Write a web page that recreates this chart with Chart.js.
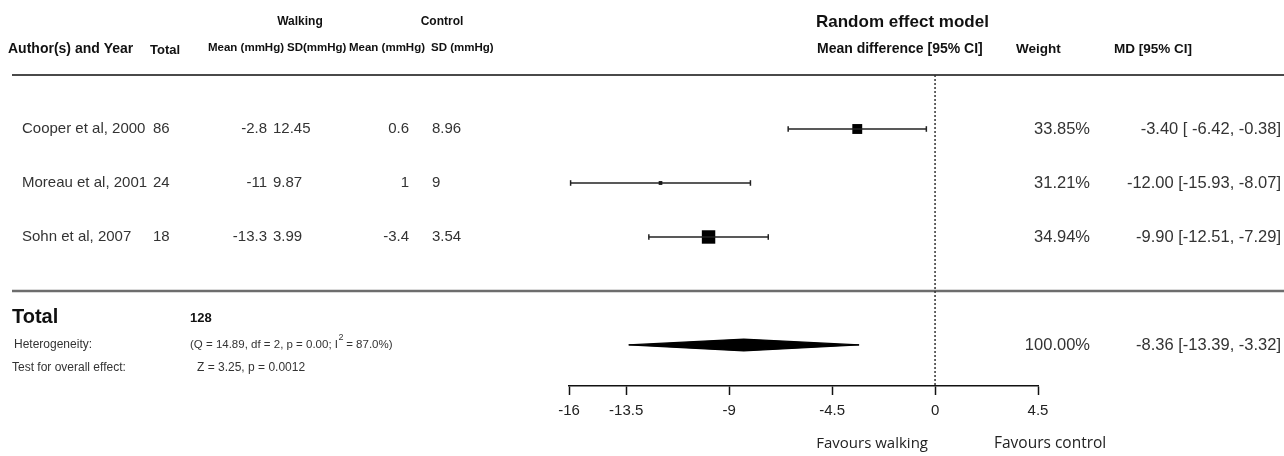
<!DOCTYPE html>
<html>
<head>
<meta charset="utf-8">
<script src="https://cdn.jsdelivr.net/npm/chart.js@4.4.0/dist/chart.umd.min.js"></script>
<style>
  html, body { margin: 0; padding: 0; background: #fff; }
  #wrap { width: 1284px; height: 456px; }
</style>
</head>
<body>
<div id="wrap"><canvas id="forest" width="1284" height="456"></canvas></div>
<script>
// 研究数据
const studies = ['Cooper et al, 2000', 'Moreau et al, 2001', 'Sohn et al, 2007'];
const totals = ['86', '24', '18'];
const walkMean = ['-2.8', '-11', '-13.3'];
const walkSD = ['12.45', '9.87', '3.99'];
const ctrlMean = ['0.6', '1', '-3.4'];
const ctrlSD = ['8.96', '9', '3.54'];
const md = [-3.40, -12.00, -9.90];
const ciLow = [-6.42, -15.93, -12.51];
const ciHigh = [-0.38, -8.07, -7.29];
const weights = ['33.85%', '31.21%', '34.94%'];

// 合并效应
const pooled = -8.36;
const pooledLow = -13.39;
const pooledHigh = -3.32;
const pooledWeight = '100.00%';
const totalN = '128';

const xTicks = [-16, -13.5, -9, -4.5, 0, 4.5];

// 行位置
const rows = [1, 2, 3];
const sepRow = 4;
const totalRow = 4.5;
const pooledRow = 5.0;
const testRow = 5.42;
const yMax = 5.76;
const halfH = 0.11;

const fmt = v => v.toFixed(2);
const ciText = i => {
  const lo = fmt(ciLow[i]);
  return fmt(md[i]) + ' [' + (lo.length < 6 ? ' ' : '') + lo + ', ' + fmt(ciHigh[i]) + ']';
};

const FONT = "'Liberation Sans', Arial, sans-serif";

// 表格文字插件
const tablePlugin = {
  id: 'forestTable',
  beforeDatasetsDraw(chart) {
    const { ctx, scales: { y } } = chart;
    ctx.save();
    ctx.lineWidth = 2;
    ctx.strokeStyle = '#4a4a4a';
    ctx.beginPath();
    ctx.moveTo(12, y.getPixelForValue(0));
    ctx.lineTo(1284, y.getPixelForValue(0));
    ctx.stroke();
    ctx.lineWidth = 2.5;
    ctx.strokeStyle = '#6d6d6d';
    ctx.beginPath();
    ctx.moveTo(12, y.getPixelForValue(sepRow));
    ctx.lineTo(1284, y.getPixelForValue(sepRow));
    ctx.stroke();
    ctx.restore();
  },
  afterDraw(chart) {
    const { ctx, scales: { y } } = chart;
    const txt = (s, px, py, font, align, color) => {
      ctx.font = font;
      ctx.fillStyle = color || '#333';
      ctx.textAlign = align || 'left';
      ctx.textBaseline = 'middle';
      ctx.fillText(s, px, py);
    };
    ctx.save();

    // 表头
    const hb = 'bold 11.5px ' + FONT;
    txt('Walking', 300, 22, 'bold 12px ' + FONT, 'center', '#111');
    txt('Control', 442, 22, 'bold 12px ' + FONT, 'center', '#111');
    txt('Random effect model', 816, 22, 'bold 17px ' + FONT, 'left', '#111');
    txt('Author(s) and Year', 8, 49, 'bold 14px ' + FONT, 'left', '#111');
    txt('Total', 150, 50, 'bold 13px ' + FONT, 'left', '#111');
    txt('Mean (mmHg)', 208, 48, hb, 'left', '#111');
    txt('SD(mmHg)', 287, 48, hb, 'left', '#111');
    txt('Mean (mmHg)', 349, 48, hb, 'left', '#111');
    txt('SD (mmHg)', 431, 48, hb, 'left', '#111');
    txt('Mean difference [95% CI]', 817, 49, 'bold 14px ' + FONT, 'left', '#111');
    txt('Weight', 1016, 49, 'bold 13.5px ' + FONT, 'left', '#111');
    txt('MD [95% CI]', 1114, 49, 'bold 13.5px ' + FONT, 'left', '#111');

    // 各研究
    const f15 = '15px ' + FONT;
    const f17 = '16.5px ' + FONT;
    rows.forEach((r, i) => {
      const py = y.getPixelForValue(r);
      txt(studies[i], 22, py, f15);
      txt(totals[i], 153, py, f15);
      txt(walkMean[i], 267, py, f15, 'right');
      txt(walkSD[i], 273, py, f15);
      txt(ctrlMean[i], 409, py, f15, 'right');
      txt(ctrlSD[i], 432, py, f15);
      txt(weights[i], 1090, py, f17, 'right');
      txt(ciText(i), 1281, py, f17, 'right');
    });

    // 合计
    const ty = y.getPixelForValue(totalRow);
    txt('Total', 12, ty, 'bold 20px ' + FONT, 'left', '#111');
    txt(totalN, 190, ty, 'bold 13px ' + FONT, 'left', '#111');
    const hy = y.getPixelForValue(pooledRow);
    const f12 = '12px ' + FONT;
    const f115 = '11.5px ' + FONT;
    txt('Heterogeneity:', 14, hy, f12);
    const part1 = '(Q = 14.89, df = 2, p = 0.00; I';
    txt(part1, 190, hy, f115);
    ctx.font = f115;
    const w1 = ctx.measureText(part1).width;
    txt('2', 190 + w1 + 0.5, hy - 7, '9px ' + FONT);
    txt(' = 87.0%)', 190 + w1 + 5, hy, f115);
    const zy = y.getPixelForValue(testRow);
    txt('Test for overall effect:', 12, zy, f12);
    txt('Z = 3.25, p = 0.0012', 197, zy, f12);
    txt(pooledWeight, 1090, hy, f17, 'right');
    txt(fmt(pooled) + ' [' + fmt(pooledLow) + ', ' + fmt(pooledHigh) + ']', 1281, hy, f17, 'right');

    // 轴标签
    txt('Favours walking', 928, 444, "15px 'Open Sans', 'Noto Sans', sans-serif", 'right', '#222');
    txt('Favours control', 994, 444, "15.5px 'Open Sans', 'Noto Sans', sans-serif", 'left', '#222');
    ctx.restore();
  }
};

const whiskerSets = rows.map((r, i) => ({
  showLine: true,
  data: [{ x: ciLow[i], y: r }, { x: ciHigh[i], y: r }],
  borderColor: '#222',
  borderWidth: 1.5,
  pointStyle: 'line',
  rotation: 90,
  pointRadius: 2.8,
  pointBorderColor: '#222',
  pointBorderWidth: 1.5
}));

const datasets = [
  // 零线
  {
    showLine: true,
    data: [{ x: 0, y: 0 }, { x: 0, y: yMax }],
    borderColor: '#333',
    borderWidth: 1.5,
    borderDash: [2, 2],
    pointRadius: 0
  },
  ...whiskerSets,
  // 方块
  {
    data: rows.map((r, i) => ({ x: md[i], y: r })),
    pointStyle: 'rect',
    pointRadius: [7, 2.6, 9.5],
    backgroundColor: '#000',
    borderColor: '#000',
    pointBorderWidth: 0
  },
  // 菱形上半
  {
    showLine: true,
    data: [{ x: pooledLow, y: pooledRow }, { x: pooled, y: pooledRow - halfH }, { x: pooledHigh, y: pooledRow }],
    borderColor: '#000',
    borderWidth: 1.2,
    backgroundColor: '#000',
    fill: '+1',
    pointRadius: 0,
    tension: 0
  },
  // 菱形下半
  {
    showLine: true,
    data: [{ x: pooledLow, y: pooledRow }, { x: pooled, y: pooledRow + halfH }, { x: pooledHigh, y: pooledRow }],
    borderColor: '#000',
    borderWidth: 1.2,
    pointRadius: 0,
    tension: 0
  }
];

new Chart(document.getElementById('forest'), {
  type: 'scatter',
  data: { datasets },
  options: {
    responsive: false,
    animation: false,
    layout: { padding: { left: 569, right: 246, top: 75, bottom: 0 } },
    plugins: { legend: { display: false }, tooltip: { enabled: false } },
    scales: {
      x: {
        type: 'linear',
        min: -16,
        max: 4.5,
        afterBuildTicks: axis => { axis.ticks = xTicks.map(v => ({ value: v })); },
        afterFit: axis => { axis.height = 70; },
        ticks: {
          autoSkip: false,
          maxRotation: 0,
          padding: 7,
          color: '#222',
          font: { family: FONT, size: 15 },
          callback: v => String(v)
        },
        grid: { drawOnChartArea: false, drawTicks: true, tickLength: 9, tickColor: '#111', tickWidth: 1.5 },
        border: { display: true, color: '#111', width: 1.5 }
      },
      y: {
        type: 'linear',
        display: false,
        reverse: true,
        min: 0,
        max: yMax
      }
    }
  },
  plugins: [tablePlugin]
});
</script>
</body>
</html>
